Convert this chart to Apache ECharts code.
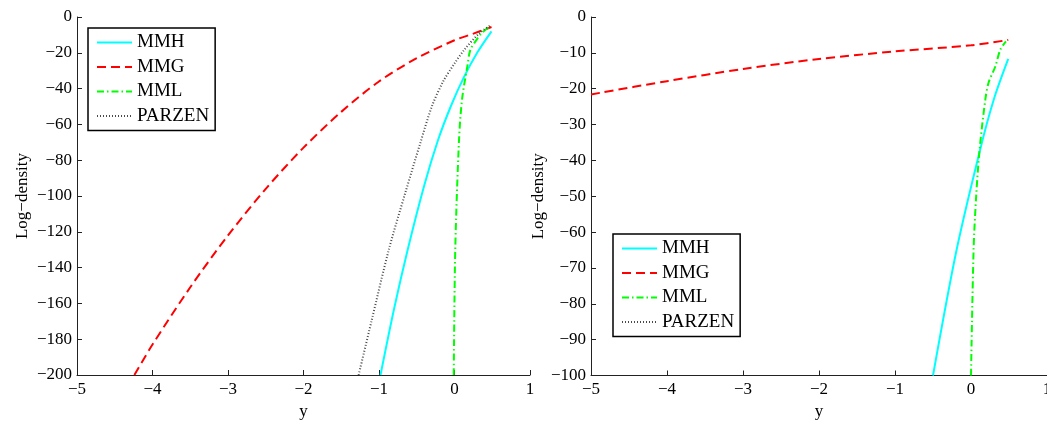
<!DOCTYPE html>
<html><head><meta charset="utf-8">
<script src="https://cdn.jsdelivr.net/npm/echarts@6/dist/echarts.min.js"></script>
<style>html,body{margin:0;padding:0;background:#fff}#c{width:1047px;height:425px}</style>
</head><body><div id="c"></div>
<script>
// ---- Left panel data ----
const mmhLeftX = [-0.98, -0.8, -0.62, -0.4, -0.22, -0.05, 0.12, 0.3, 0.49];
const mmhLeftY = [-200, -163, -130, -94, -69, -50, -34, -20, -8];
const mmgLeftX = [-4.24, -4.0, -3.5, -3.0, -2.5, -2.0, -1.5, -1.0, -0.5, 0.0, 0.25, 0.49];
const mmgLeftY = [-200, -183, -151, -122, -96, -73, -53, -36, -23, -13, -9.3, -5.6];
const mmlLeftX = [-0.01, 0.01, 0.06, 0.10, 0.17, 0.21, 0.28, 0.36, 0.47];
const mmlLeftY = [-200, -130, -68.6, -46, -27.6, -18.3, -13.5, -9, -5.2];
const parzenLeftX = [-1.27, -1.1, -0.87, -0.65, -0.45, -0.30, -0.15, 0.0, 0.13, 0.33, 0.49];
const parzenLeftY = [-200, -170, -130, -98, -70, -50, -36, -26, -18.3, -9, -4.3];
// ---- Right panel data ----
const mmhRightX = [-0.5, -0.19, 0.12, 0.3, 0.49];
const mmhRightY = [-100, -65, -37, -23, -11.7];
const mmgRightX = [-5, -4, -3, -2, -1, 0, 0.49];
const mmgRightY = [-21.6, -17.9, -14.5, -11.7, -9.6, -7.9, -6.4];
const mmlRightX = [0.0, 0.034, 0.068, 0.113, 0.188, 0.23, 0.32, 0.386, 0.46];
const mmlRightY = [-100, -65, -50, -37, -23.1, -18.4, -13.8, -9.1, -6.8];
const parzenRightX = [];
const parzenRightY = [];
// ---- Axes ----
const xTicks = [-5, -4, -3, -2, -1, 0, 1];
const yLeftTicks = [-200, -180, -160, -140, -120, -100, -80, -60, -40, -20, 0];
const yRightTicks = [-100, -90, -80, -70, -60, -50, -40, -30, -20, -10, 0];
const names = ['MMH', 'MMG', 'MML', 'PARZEN'];

const zip = (xs, ys) => xs.map((x, i) => [x, ys[i]]);
const FONT = '"Liberation Serif", "Times New Roman", serif';
const fmt = v => (v < 0 ? '\u2212' + (-v) : String(v));
const styles = {
  MMH: {color: '#00ffff', width: 2, type: 'solid'},
  MMG: {color: '#ff0000', width: 2, type: [9, 5]},
  MML: {color: '#00ff00', width: 2, type: [7, 3, 1.5, 3]},
  PARZEN: {color: '#4a4a4a', width: 2, type: [1, 2]}
};
function mkSeries(name, data, idx) {
  return {name, type: 'line', data, xAxisIndex: idx, yAxisIndex: idx, showSymbol: false, symbol: 'none',
    lineStyle: styles[name], itemStyle: {color: styles[name].color}, smooth: 0.3, animation: false, clip: true};
}
function xAx(idx) {
  return {gridIndex: idx, type: 'value', min: xTicks[0], max: xTicks[xTicks.length - 1], interval: 1,
    name: 'y', nameLocation: 'middle', nameGap: 25,
    nameTextStyle: {fontFamily: FONT, fontSize: 17, color: '#000'},
    axisLine: {onZero: false, lineStyle: {color: '#222', width: 1}},
    axisTick: {inside: true, length: 5, lineStyle: {color: '#222'}},
    axisLabel: {formatter: fmt, fontFamily: FONT, fontSize: 17, color: '#000', margin: 6, hideOverlap: false},
    splitLine: {show: false}};
}
function yAx(idx, ticks, gap) {
  return {gridIndex: idx, type: 'value', min: ticks[0], max: ticks[ticks.length - 1], interval: ticks[1] - ticks[0],
    name: 'Log\u2212density', nameLocation: 'middle', nameGap: gap,
    nameTextStyle: {fontFamily: FONT, fontSize: 17, color: '#000'},
    axisLine: {onZero: false, lineStyle: {color: '#222', width: 1}},
    axisTick: {inside: true, length: 5, lineStyle: {color: '#222'}},
    axisLabel: {formatter: fmt, fontFamily: FONT, fontSize: 17, color: '#000', margin: 5},
    splitLine: {show: false}};
}
function legend(left, top) {
  return {data: names, orient: 'vertical', left, top, backgroundColor: '#fff', borderColor: '#000', borderWidth: 1.5,
    borderRadius: 0, padding: [5, 6, 5, 8], itemWidth: 35, itemHeight: 14, itemGap: 5.5, selectedMode: false,
    itemStyle: {opacity: 0},
    textStyle: {fontFamily: FONT, fontSize: 19, color: '#000'}};
}
const chart = echarts.init(document.getElementById('c'), null, {renderer: 'canvas'});
chart.setOption({
  animation: false,
  backgroundColor: '#fff',
  grid: [
    {left: 77, top: 17, width: 453, height: 358, outerBoundsMode: 'none', containLabel: false},
    {left: 591, top: 17, width: 456, height: 358.5, outerBoundsMode: 'none', containLabel: false}
  ],
  xAxis: [xAx(0), xAx(1)],
  yAxis: [yAx(0, yLeftTicks, 46), yAx(1, yRightTicks, 38)],
  legend: [legend(88, 28), legend(613, 234)],
  series: [
    mkSeries('MMH', zip(mmhLeftX, mmhLeftY), 0),
    mkSeries('MMG', zip(mmgLeftX, mmgLeftY), 0),
    mkSeries('MML', zip(mmlLeftX, mmlLeftY), 0),
    mkSeries('PARZEN', zip(parzenLeftX, parzenLeftY), 0),
    mkSeries('MMH', zip(mmhRightX, mmhRightY), 1),
    mkSeries('MMG', zip(mmgRightX, mmgRightY), 1),
    mkSeries('MML', zip(mmlRightX, mmlRightY), 1),
    mkSeries('PARZEN', zip(parzenRightX, parzenRightY), 1)
  ]
});
</script></body></html>
